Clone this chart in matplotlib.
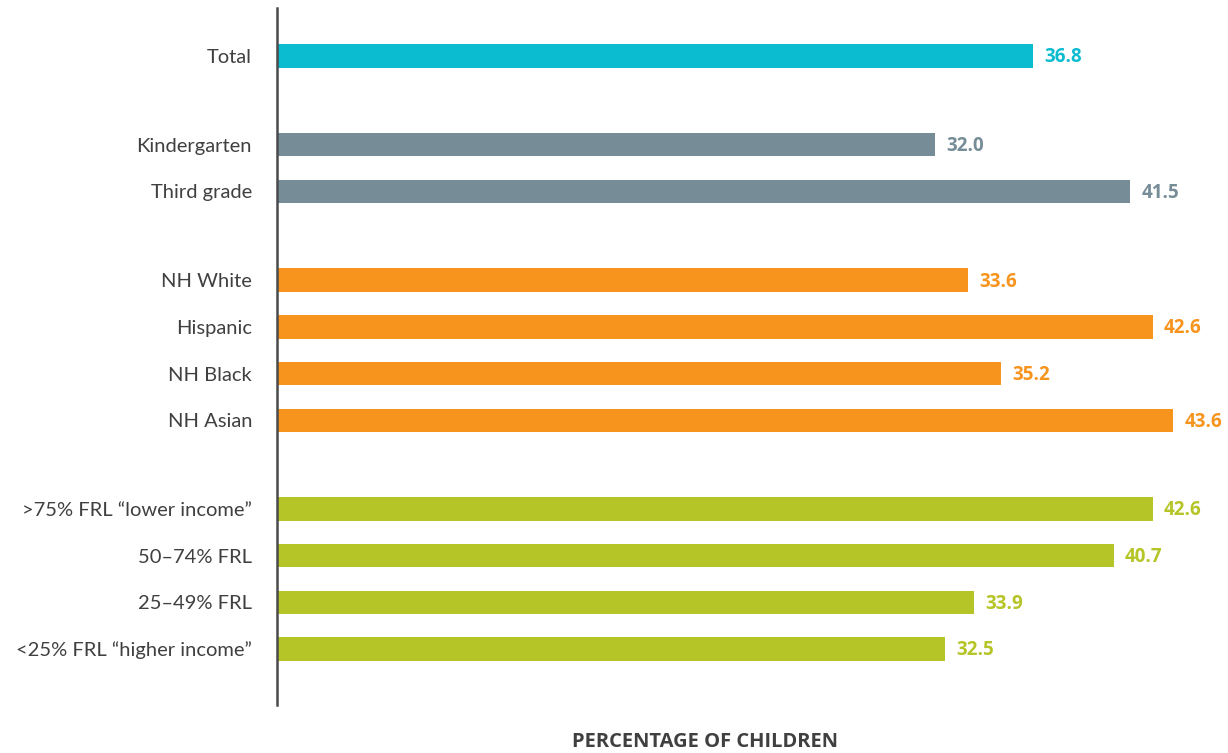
import matplotlib
matplotlib.use("Agg")
import matplotlib.pyplot as plt

plt.rcParams['font.family'] = ['Lato', 'DejaVu Sans']
BOLD_FAMILY = ['Open Sans', 'DejaVu Sans']

# categories, top to bottom, split into their groups
groups = [
    ["Total"],
    ["Kindergarten", "Third grade"],
    ["NH White", "Hispanic", "NH Black", "NH Asian"],
    [">75% FRL \u201clower income\u201d", "50\u201374% FRL", "25\u201349% FRL",
     "<25% FRL \u201chigher income\u201d"],
]
group_values = [
    [36.8],
    [32.0, 41.5],
    [33.6, 42.6, 35.2, 43.6],
    [42.6, 40.7, 33.9, 32.5],
]
group_colors = ["#0BBCD1", "#768C97", "#F7941D", "#B5C426"]
text_color = "#404040"

fig = plt.figure(figsize=(12.28, 7.53), dpi=100)
W, H = 1228, 753
x0, x1 = 277, 1202
y_top, y_bot = 8, 705
ax = fig.add_axes([x0 / W, (H - y_bot) / H, (x1 - x0) / W, (y_bot - y_top) / H])

pos = 0.0
ticks, labels = [], []
for gi, (cats, vals) in enumerate(zip(groups, group_values)):
    if gi > 0:
        pos += 0.9  # extra space between groups
    for cat, v in zip(cats, vals):
        ax.barh(pos, v, height=0.5, color=group_colors[gi])
        ax.text(v + 0.55, pos + 0.03, f"{v:.1f}", va="center", ha="left",
                fontsize=13.5, fontweight="bold", family=BOLD_FAMILY,
                color=group_colors[gi])
        ticks.append(pos)
        labels.append(cat)
        pos += 1.0

ax.set_xlim(0, 45)
ax.set_ylim(13.9, -1.03)
ax.set_yticks(ticks)
ax.set_yticklabels(labels, fontsize=14.5, color=text_color)
ax.tick_params(axis="y", length=0, pad=18)
ax.set_xticks([])
for s in ["top", "right", "bottom"]:
    ax.spines[s].set_visible(False)
ax.spines["left"].set_color("#4a4a4a")
ax.spines["left"].set_linewidth(1.8)

fig.text(705 / W, 1 - 742 / H, "PERCENTAGE OF CHILDREN", ha="center", va="center",
         fontsize=14.5, fontweight="bold", family=BOLD_FAMILY, color=text_color)

fig.savefig("out.png", dpi=100)
